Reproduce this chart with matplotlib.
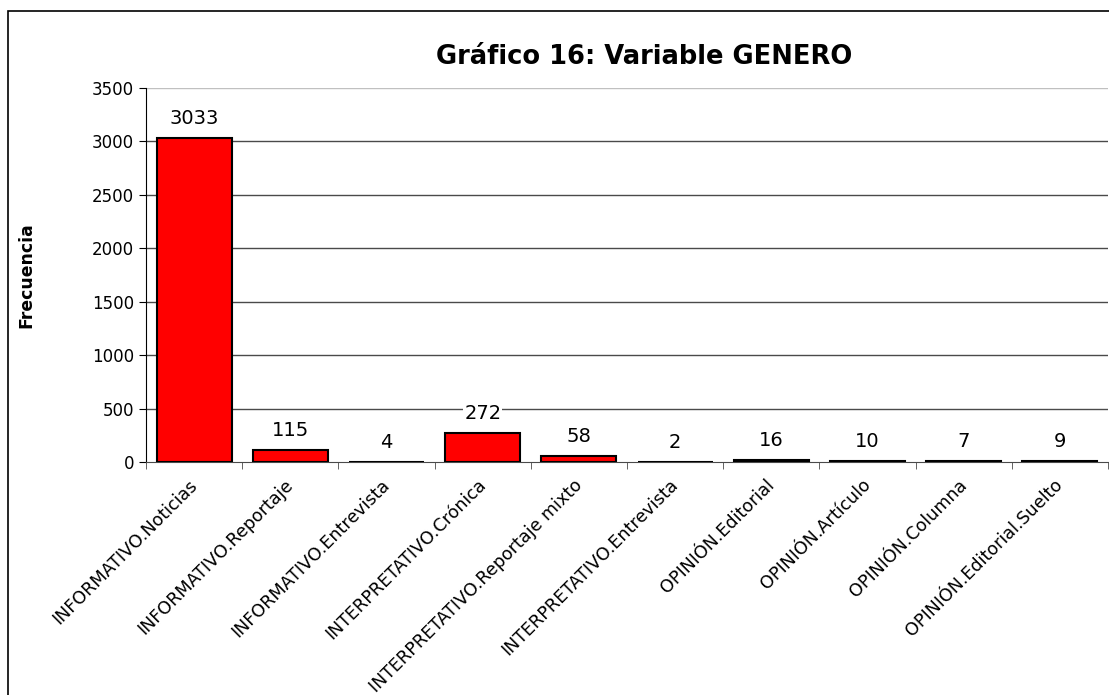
import matplotlib
matplotlib.use("Agg")
import matplotlib.pyplot as plt
from matplotlib.patches import Rectangle
import matplotlib.transforms as mtransforms
import numpy as np

categories = ["INFORMATIVO.Noticias", "INFORMATIVO.Reportaje", "INFORMATIVO.Entrevista",
              "INTERPRETATIVO.Crónica", "INTERPRETATIVO.Reportaje mixto",
              "INTERPRETATIVO.Entrevista", "OPINIÓN.Editorial", "OPINIÓN.Artículo",
              "OPINIÓN.Columna", "OPINIÓN.Editorial.Suelto"]
values = [3033, 115, 4, 272, 58, 2, 16, 10, 7, 9]
yticks = [0, 500, 1000, 1500, 2000, 2500, 3000, 3500]
title = "Gráfico 16: Variable GENERO"
ylabel = "Frecuencia"

plt.rcParams['font.family'] = ['DejaVu Sans']

fig = plt.figure(figsize=(11.09, 6.95), dpi=100)
ax = fig.add_axes([146/1109, 1-462/695, (1108-146)/1109, (462-88)/695])

x = np.arange(len(categories))
ax.bar(x, values, width=0.78, color='#ff0000', edgecolor='black', linewidth=1.5, zorder=3)

ax.set_xlim(-0.5, len(categories)-0.5)
ax.set_ylim(0, 3500)
ax.set_yticks(yticks)
ax.set_yticklabels([str(t) for t in yticks], fontsize=12)
for t in yticks[1:]:
    ax.axhline(t, color='#c0c0c0' if t == 3500 else '#4a4a4a', lw=1, zorder=1)

ax.set_xticks(x)
ax.set_xticklabels(categories, rotation=45, ha='right', rotation_mode='anchor', fontsize=12.6)
ax.tick_params(axis='x', which='major', length=0, pad=10)
offset = mtransforms.ScaledTranslation(-6/100, 0, fig.dpi_scale_trans)
for lab in ax.get_xticklabels():
    lab.set_transform(lab.get_transform() + offset)
ax.set_xticks(np.arange(-0.5, len(categories)), minor=True)
ax.tick_params(axis='x', which='minor', length=5, color='#4a4a4a')
ax.tick_params(axis='y', length=5, direction='out')

for s in ['top', 'right']:
    ax.spines[s].set_visible(False)
ax.spines['left'].set_color('black')
ax.spines['bottom'].set_color('#4a4a4a')

for xi, v in zip(x, values):
    ax.annotate(str(v), (xi, v), xytext=(0, 14), textcoords='offset points',
                ha='center', va='center', fontsize=14, zorder=4,
                bbox=dict(facecolor='white', edgecolor='none', pad=0.5))

fig.text(26/1109, 1-275/695, ylabel, fontsize=12.4, fontweight='bold',
         rotation=90, ha='center', va='center')
fig.text(644/1109, 1-57/695, title, fontsize=18.5, fontweight='bold', ha='center', va='center')

fig.patches.append(Rectangle((8/1109, -0.1), 1.2, 1-11/695+0.1, transform=fig.transFigure,
                             fill=False, edgecolor='black', lw=1.2))

fig.savefig("out.png", dpi=100)
